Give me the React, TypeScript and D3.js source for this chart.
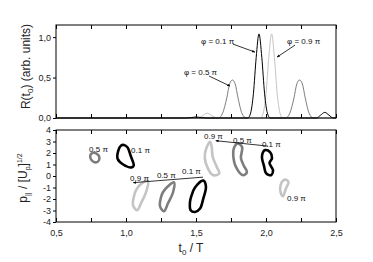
import React, { useEffect, useRef } from "react";
import * as d3 from "d3";

type Pt = [number, number];

const W = 373;
const H = 262;

// top panel: R(t0) for three phases, [t0/T, R]
const phi01Curve: Pt[] = [
  [0.5, 0], [1.42, 0], [1.46, 0.004], [1.5, 0.012], [1.54, 0.004], [1.58, 0],
  [1.87, 0], [1.89, 0.06], [1.91, 0.3], [1.93, 0.75], [1.95, 1.04], [1.97, 0.75],
  [1.99, 0.3], [2.01, 0.06], [2.03, 0], [2.36, 0], [2.39, 0.035], [2.42, 0.07],
  [2.45, 0.035], [2.48, 0], [2.5, 0],
];
const phi05Curve: Pt[] = [
  [0.5, 0], [1.66, 0], [1.69, 0.06], [1.72, 0.25], [1.74, 0.42], [1.76, 0.47],
  [1.78, 0.42], [1.8, 0.25], [1.83, 0.05], [1.86, 0], [2.14, 0], [2.17, 0.06],
  [2.2, 0.25], [2.22, 0.42], [2.24, 0.47], [2.26, 0.42], [2.28, 0.25],
  [2.31, 0.05], [2.34, 0], [2.5, 0],
];
const phi09Curve: Pt[] = [
  [0.5, 0], [1.5, 0], [1.54, 0.02], [1.58, 0.06], [1.62, 0.02], [1.66, 0],
  [1.96, 0], [1.98, 0.06], [2.0, 0.3], [2.02, 0.75], [2.04, 1.04], [2.06, 0.75],
  [2.08, 0.3], [2.1, 0.06], [2.12, 0], [2.5, 0],
];

// bottom panel: closed loops of p|| vs t0, [t0/T, p]
const loop05Left: Pt[] = [
  [0.76, 2.0], [0.79, 1.95], [0.81, 1.6], [0.8, 1.25], [0.775, 1.2], [0.75, 1.45], [0.745, 1.8],
];
const loop01Left: Pt[] = [
  [0.985, 2.7], [1.01, 2.5], [1.035, 1.7], [1.055, 0.9], [1.04, 0.75],
  [0.98, 1.0], [0.94, 1.5], [0.945, 2.2], [0.965, 2.65],
];
const loop09Low: Pt[] = [
  [1.071, -1.24], [1.114, -0.62], [1.157, -0.45], [1.143, -1.41], [1.107, -2.37],
  [1.079, -2.98], [1.05, -2.54], [1.057, -1.76],
];
const loop05Low: Pt[] = [
  [1.264, -1.41], [1.3, -0.89], [1.343, -0.55], [1.336, -1.41], [1.3, -2.37],
  [1.271, -3.07], [1.243, -2.63], [1.25, -1.85],
];
const loop01Low: Pt[] = [
  [1.469, -1.67], [1.493, -1.0], [1.552, -0.4], [1.571, -0.95], [1.552, -1.96],
  [1.529, -2.83], [1.493, -3.13], [1.462, -2.98], [1.457, -2.26],
];
const loop09High: Pt[] = [
  [1.6, 2.98], [1.564, 1.97], [1.571, 1.09], [1.624, 0.07], [1.666, 0.22],
  [1.648, 0.8], [1.619, 1.67], [1.612, 2.54],
];
const loop05High: Pt[] = [
  [1.798, 2.84], [1.829, 2.52], [1.821, 1.56], [1.843, 0.86], [1.864, 0.34],
  [1.836, 0.07], [1.786, 0.77], [1.766, 1.82], [1.771, 2.43],
];
const loop01High: Pt[] = [
  [1.993, 2.25], [2.029, 2.08], [2.043, 1.56], [2.025, 1.12], [2.05, 0.51],
  [2.036, 0.07], [2.0, 0.25], [1.986, 0.86], [1.971, 1.64], [1.979, 2.08],
];
const loop09Right: Pt[] = [
  [2.143, -0.32], [2.161, -0.54], [2.143, -1.06], [2.121, -1.76], [2.104, -1.41],
  [2.104, -0.8], [2.121, -0.41],
];

const xTicks = [0.5, 1.0, 1.5, 2.0, 2.5];
const rTicks = [0, 0.5, 1.0];
const pTicks = [4, 3, 2, 1, 0, -1, -2, -3, -4];

const BLACK = "#000";
const MID = "#7d7d7d";
const LIGHT = "#c4c4c4";

const topNotes = [
  { t: 1.536, r: 0.914, text: "\u03c6 = 0.1 \u03c0", from: [1.764, 0.914], to: [1.921, 0.815] },
  { t: 2.15, r: 0.914, text: "\u03c6 = 0.9 \u03c0", from: [2.207, 0.901], to: [2.079, 0.753] },
  { t: 1.414, r: 0.537, text: "\u03c6 = 0.5 \u03c0", from: [1.593, 0.519], to: [1.743, 0.395] },
];

const bottomNotes = [
  { t: 0.736, p: 2.12, text: "0.5 \u03c0" },
  { t: 1.036, p: 2.04, text: "0.1 \u03c0" },
  { t: 1.029, p: -0.45, text: "0.9 \u03c0" },
  { t: 1.221, p: -0.14, text: "0.5 \u03c0" },
  { t: 1.4, p: 0.16, text: "0.1 \u03c0" },
  { t: 1.557, p: 3.21, text: "0.9 \u03c0" },
  { t: 1.764, p: 2.87, text: "0.5 \u03c0" },
  { t: 1.971, p: 2.56, text: "0.1 \u03c0" },
  { t: 2.15, p: -2.15, text: "0.9 \u03c0" },
];
const bottomLines: [Pt, Pt][] = [
  [[1.052, -0.58], [1.55, -0.1]],
  [[1.641, 3.07], [2.014, 2.6]],
];

const FONT = "'Liberation Sans', Arial, Helvetica, sans-serif";

const App = () => {
  const ref = useRef<SVGSVGElement>(null);

  useEffect(() => {
    const svg = d3.select(ref.current);
    svg.selectAll("*").remove();
    svg.attr("font-family", FONT);

    const left = 56, right = 336;
    const top1 = 25, bot1 = 118;
    const top2 = 130, bot2 = 222;

    const x = d3.scaleLinear().domain([0.5, 2.5]).range([left, right]);
    const yR = d3.scaleLinear().domain([0, 1.15]).range([bot1, top1]);
    const yP = d3.scaleLinear().domain([-4, 4]).range([bot2, top2]);

    const defs = svg.append("defs");
    defs.append("marker")
      .attr("id", "arr")
      .attr("viewBox", "0 0 10 10")
      .attr("refX", 9).attr("refY", 5)
      .attr("markerWidth", 4).attr("markerHeight", 4)
      .attr("orient", "auto-start-reverse")
      .append("path").attr("d", "M0,1 L10,5 L0,9 z").attr("fill", "#000");

    const minor = d3.range(0.5, 2.51, 0.25);

    // ---------- top panel ----------
    const line1 = d3.line<Pt>().x((d) => x(d[0])).y((d) => yR(d[1])).curve(d3.curveMonotoneX);
    const g1 = svg.append("g");
    [[phi05Curve, MID], [phi09Curve, LIGHT], [phi01Curve, BLACK]].forEach(([data, c]) => {
      g1.append("path")
        .attr("d", line1(data as Pt[]))
        .attr("fill", "none")
        .attr("stroke", c as string)
        .attr("stroke-width", 1);
    });

    g1.append("rect")
      .attr("x", left).attr("y", top1)
      .attr("width", right - left).attr("height", bot1 - top1)
      .attr("fill", "none").attr("stroke", "#000").attr("stroke-width", 1);

    g1.append("g").attr("transform", `translate(0,${top1})`)
      .call(d3.axisTop(x).tickValues(minor).tickSize(-4).tickFormat(() => ""))
      .call((g) => g.select(".domain").remove());
    g1.append("g").attr("transform", `translate(0,${bot1})`)
      .call(d3.axisBottom(x).tickValues(minor).tickSize(-4).tickFormat(() => ""))
      .call((g) => g.select(".domain").remove());
    g1.append("g").attr("transform", `translate(${left},0)`)
      .call(d3.axisLeft(yR).tickValues(rTicks).tickSize(3).tickPadding(2)
        .tickFormat((d) => d3.format(".1f")(d as number).replace(".", ",")))
      .call((g) => g.select(".domain").remove())
      .call((g) => g.selectAll("text").attr("font-size", 9).attr("font-family", FONT).attr("fill", "#222"));

    topNotes.forEach((n) => {
      g1.append("text")
        .attr("x", x(n.t)).attr("y", yR(n.r))
        .attr("font-size", 8).attr("fill", "#111")
        .text(n.text);
      g1.append("line")
        .attr("x1", x(n.from[0])).attr("y1", yR(n.from[1]))
        .attr("x2", x(n.to[0])).attr("y2", yR(n.to[1]))
        .attr("stroke", "#000").attr("stroke-width", 0.8)
        .attr("marker-end", "url(#arr)");
    });

    const t1 = svg.append("text")
      .attr("transform", `translate(30,${(top1 + bot1) / 2 - 5}) rotate(-90)`)
      .attr("text-anchor", "middle").attr("font-size", 12).attr("fill", "#222");
    t1.append("tspan").text("R(t");
    t1.append("tspan").attr("font-size", 8).attr("dy", 3).text("0");
    t1.append("tspan").attr("dy", -3).text(") (arb. units)");

    // ---------- bottom panel ----------
    const loopLine = d3.line<Pt>().x((d) => x(d[0])).y((d) => yP(d[1])).curve(d3.curveCatmullRomClosed.alpha(0.5));
    const g2 = svg.append("g");
    const loops: [Pt[], string][] = [
      [loop05Left, MID], [loop01Left, BLACK], [loop09Low, LIGHT], [loop05Low, MID],
      [loop01Low, BLACK], [loop09High, LIGHT], [loop05High, MID], [loop01High, BLACK],
      [loop09Right, LIGHT],
    ];
    loops.forEach(([data, c]) => {
      g2.append("path")
        .attr("d", loopLine(data))
        .attr("fill", "none")
        .attr("stroke", c)
        .attr("stroke-width", 2.6)
        .attr("stroke-linejoin", "round");
    });

    g2.append("rect")
      .attr("x", left).attr("y", top2)
      .attr("width", right - left).attr("height", bot2 - top2)
      .attr("fill", "none").attr("stroke", "#000").attr("stroke-width", 1);

    g2.append("g").attr("transform", `translate(0,${top2})`)
      .call(d3.axisTop(x).tickValues(minor).tickSize(-4).tickFormat(() => ""))
      .call((g) => g.select(".domain").remove());
    g2.append("g").attr("transform", `translate(0,${bot2})`)
      .call(d3.axisBottom(x).tickValues(minor).tickSize(-4).tickPadding(8)
        .tickFormat((d) => (xTicks.includes(d as number) ? d3.format(".1f")(d as number).replace(".", ",") : "")))
      .call((g) => g.select(".domain").remove())
      .call((g) => g.selectAll("text").attr("font-size", 9).attr("font-family", FONT).attr("fill", "#222"));
    g2.append("g").attr("transform", `translate(${left},0)`)
      .call(d3.axisLeft(yP).tickValues(pTicks).tickSize(3).tickPadding(2).tickFormat((d) => String(d)))
      .call((g) => g.select(".domain").remove())
      .call((g) => g.selectAll("text").attr("font-size", 9).attr("font-family", FONT).attr("fill", "#222"));

    bottomNotes.forEach((n) => {
      g2.append("text")
        .attr("x", x(n.t)).attr("y", yP(n.p))
        .attr("font-size", 8).attr("fill", "#111")
        .text(n.text);
    });
    bottomLines.forEach(([a, b]) => {
      g2.append("line")
        .attr("x1", x(a[0])).attr("y1", yP(a[1]))
        .attr("x2", x(b[0])).attr("y2", yP(b[1]))
        .attr("stroke", "#000").attr("stroke-width", 0.8)
        .attr("marker-start", "url(#arr)");
    });

    const t2 = svg.append("text")
      .attr("transform", `translate(27,${(top2 + bot2) / 2 + 2}) rotate(-90)`)
      .attr("text-anchor", "middle").attr("font-size", 12).attr("fill", "#222");
    t2.append("tspan").text("p");
    t2.append("tspan").attr("font-size", 7).attr("dy", 3).text("||");
    t2.append("tspan").attr("dy", -3).text(" / [U");
    t2.append("tspan").attr("font-size", 7).attr("dy", 3).text("p");
    t2.append("tspan").attr("dy", -3).text("]");
    t2.append("tspan").attr("font-size", 7).attr("dy", -5).text("1/2");

    const tx = svg.append("text")
      .attr("x", (left + right) / 2 - 5).attr("y", 252)
      .attr("text-anchor", "middle").attr("font-size", 12).attr("fill", "#222");
    tx.append("tspan").text("t");
    tx.append("tspan").attr("font-size", 8).attr("dy", 3).text("0");
    tx.append("tspan").attr("dy", -3).text(" / T");
  }, []);

  return (
    <svg
      ref={ref}
      width={W}
      height={H}
      style={{ position: "absolute", left: 0, top: 0, background: "#fff" }}
    />
  );
};

export default App;
